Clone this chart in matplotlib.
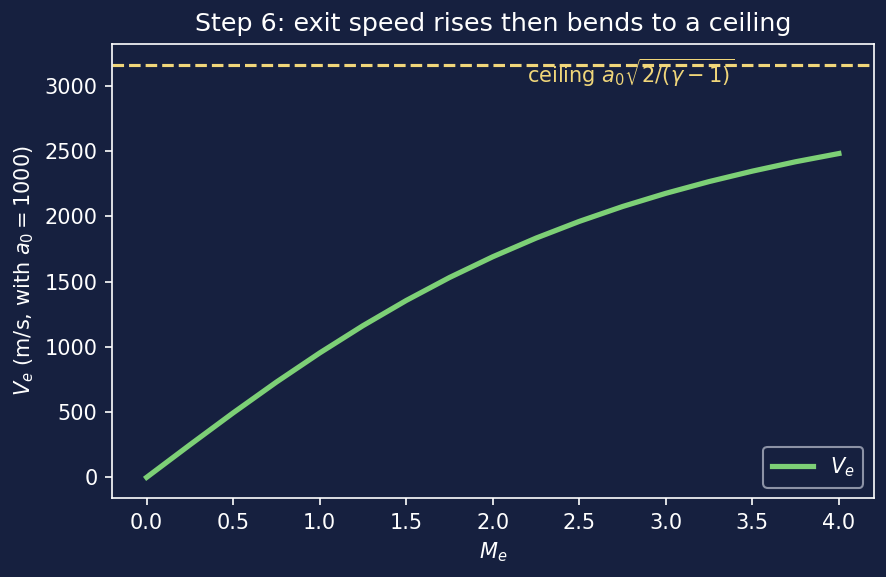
import numpy as np
import matplotlib
matplotlib.use('Agg')
import matplotlib.pyplot as plt

# Exit Mach number and exit speed (m/s)
mach = [0.0, 0.25, 0.5, 0.75, 1.0, 1.25, 1.5, 1.75, 2.0, 2.25, 2.5,
        2.75, 3.0, 3.25, 3.5, 3.75, 4.0]
v_exit = [0, 249, 494, 730, 953, 1162, 1355, 1531, 1690, 1833, 1961,
          2075, 2176, 2266, 2346, 2418, 2481]
ceiling = 3162

bg = '#16203f'
fg = 'white'

fig, ax = plt.subplots(figsize=(886 / 150, 577 / 150), dpi=150)
fig.patch.set_facecolor(bg)
ax.set_facecolor(bg)

ax.plot(mach, v_exit, color='#7dd076', lw=2.5, label='$V_e$')
ax.axhline(ceiling, color='#f0d67a', ls='--', lw=1.5)
ax.text(2.2, ceiling * 0.98, r'ceiling $a_0\sqrt{2/(\gamma-1)}$', color='#f0d67a',
        fontsize=10, va='center')

ax.set_xlabel('$M_e$', color=fg, fontsize=10)
ax.set_ylabel('$V_e$ (m/s, with $a_0=1000$)', color=fg, fontsize=10)
ax.set_title('Step 6: exit speed rises then bends to a ceiling', color=fg, fontsize=12.2)
ax.tick_params(colors=fg, labelsize=10)
for s in ax.spines.values():
    s.set_color(fg)

leg = ax.legend(loc='lower right', facecolor=bg, edgecolor='#aab0c0', fontsize=10)
for t in leg.get_texts():
    t.set_color(fg)

fig.tight_layout(pad=0.6)
fig.savefig('out.png', dpi=150, facecolor=bg)
